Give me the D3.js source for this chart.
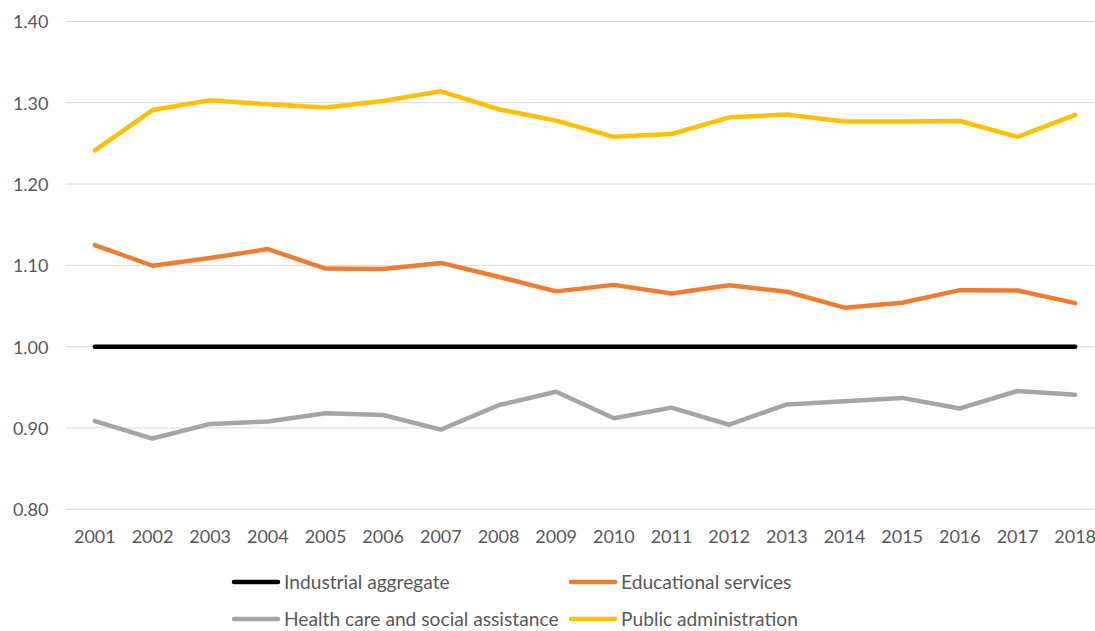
<!DOCTYPE html>
<html lang="en">
<head>
  <meta charset="utf-8" />
  <title>Relative earnings by sector, 2001-2018</title>
  <script src="https://d3js.org/d3.v7.min.js"></script>
  <style>
    body { margin: 0; background: #fff; }
    svg text { font-family: Lato, "Open Sans", sans-serif; fill: #595959; }
  </style>
</head>
<body>
  <svg id="chart" width="1095" height="631"></svg>
  <script>
    // data
    const years = ['2001','2002','2003','2004','2005','2006','2007','2008','2009',
                   '2010','2011','2012','2013','2014','2015','2016','2017','2018'];
    const industrial = [1,1,1,1,1,1,1,1,1,1,1,1,1,1,1,1,1,1];
    const educational = [1.125,1.0995,1.109,1.120,1.096,1.0955,1.103,1.086,1.068,
                         1.076,1.0655,1.0755,1.0675,1.048,1.054,1.0695,1.069,1.0535];
    const health = [0.9085,0.887,0.905,0.908,0.918,0.916,0.898,0.928,0.9445,
                    0.912,0.925,0.904,0.929,0.933,0.937,0.924,0.9455,0.941];
    const publicAdmin = [1.2415,1.291,1.303,1.298,1.294,1.302,1.314,1.292,1.278,
                         1.258,1.2615,1.282,1.2855,1.277,1.277,1.2775,1.258,1.285];
    const yTicks = [0.8, 0.9, 1.0, 1.1, 1.2, 1.3, 1.4];

    const series = [
      { name: 'Industrial aggregate', values: industrial, color: '#000000' },
      { name: 'Educational services', values: educational, color: '#ED7D31' },
      { name: 'Health care and social assistance', values: health, color: '#A5A5A5' },
      { name: 'Public administration', values: publicAdmin, color: '#FFC000' }
    ];

    const svg = d3.select('#chart');
    const plotLeft = 66, plotRight = 1104, plotTop = 21.4, plotBottom = 509.3;

    const x = d3.scaleBand().domain(years).range([plotLeft, plotRight]);
    const y = d3.scaleLinear().domain([0.8, 1.4]).range([plotBottom, plotTop]);

    // gridlines
    svg.append('g')
      .selectAll('line')
      .data(yTicks)
      .enter()
      .append('line')
      .attr('x1', plotLeft)
      .attr('x2', plotRight)
      .attr('y1', d => y(d))
      .attr('y2', d => y(d))
      .attr('stroke', '#d9d9d9')
      .attr('stroke-width', 1);

    // y axis labels
    const yAxis = svg.append('g')
      .attr('transform', `translate(${plotLeft - 17.5},0)`)
      .call(d3.axisLeft(y).tickValues(yTicks).tickFormat(d3.format('.2f')).tickSize(0).tickPadding(0));
    yAxis.select('.domain').remove();
    yAxis.selectAll('text').attr('font-size', 18).attr('dy', '0.36em');

    // x axis labels
    const xAxis = svg.append('g')
      .attr('transform', `translate(0,${plotBottom})`)
      .call(d3.axisBottom(x).tickSize(0).tickPadding(21));
    xAxis.select('.domain').remove();
    xAxis.selectAll('text').attr('font-size', 18);

    const line = d3.line()
      .x((d, i) => x(years[i]) + x.bandwidth() / 2)
      .y(d => y(d));

    // draw order: industrial, educational, health, public admin
    svg.append('g')
      .selectAll('path')
      .data(series)
      .enter()
      .append('path')
      .attr('d', d => line(d.values))
      .attr('fill', 'none')
      .attr('stroke', d => d.color)
      .attr('stroke-width', 4.5)
      .attr('stroke-linejoin', 'round')
      .attr('stroke-linecap', 'round');

    // legend, two columns
    const legendPos = [[230, 582], [567, 582], [230, 619], [567, 619]];
    const legend = svg.append('g')
      .selectAll('g')
      .data(series)
      .enter()
      .append('g')
      .attr('transform', (d, i) => `translate(${legendPos[i][0]},${legendPos[i][1]})`);
    legend.append('line')
      .attr('x1', 4).attr('x2', 48)
      .attr('stroke', d => d.color)
      .attr('stroke-width', 4.5)
      .attr('stroke-linecap', 'round');
    legend.append('text')
      .attr('x', 54)
      .attr('dy', '0.36em')
      .attr('font-size', 19.2)
      .text(d => d.name);
  </script>
</body>
</html>
